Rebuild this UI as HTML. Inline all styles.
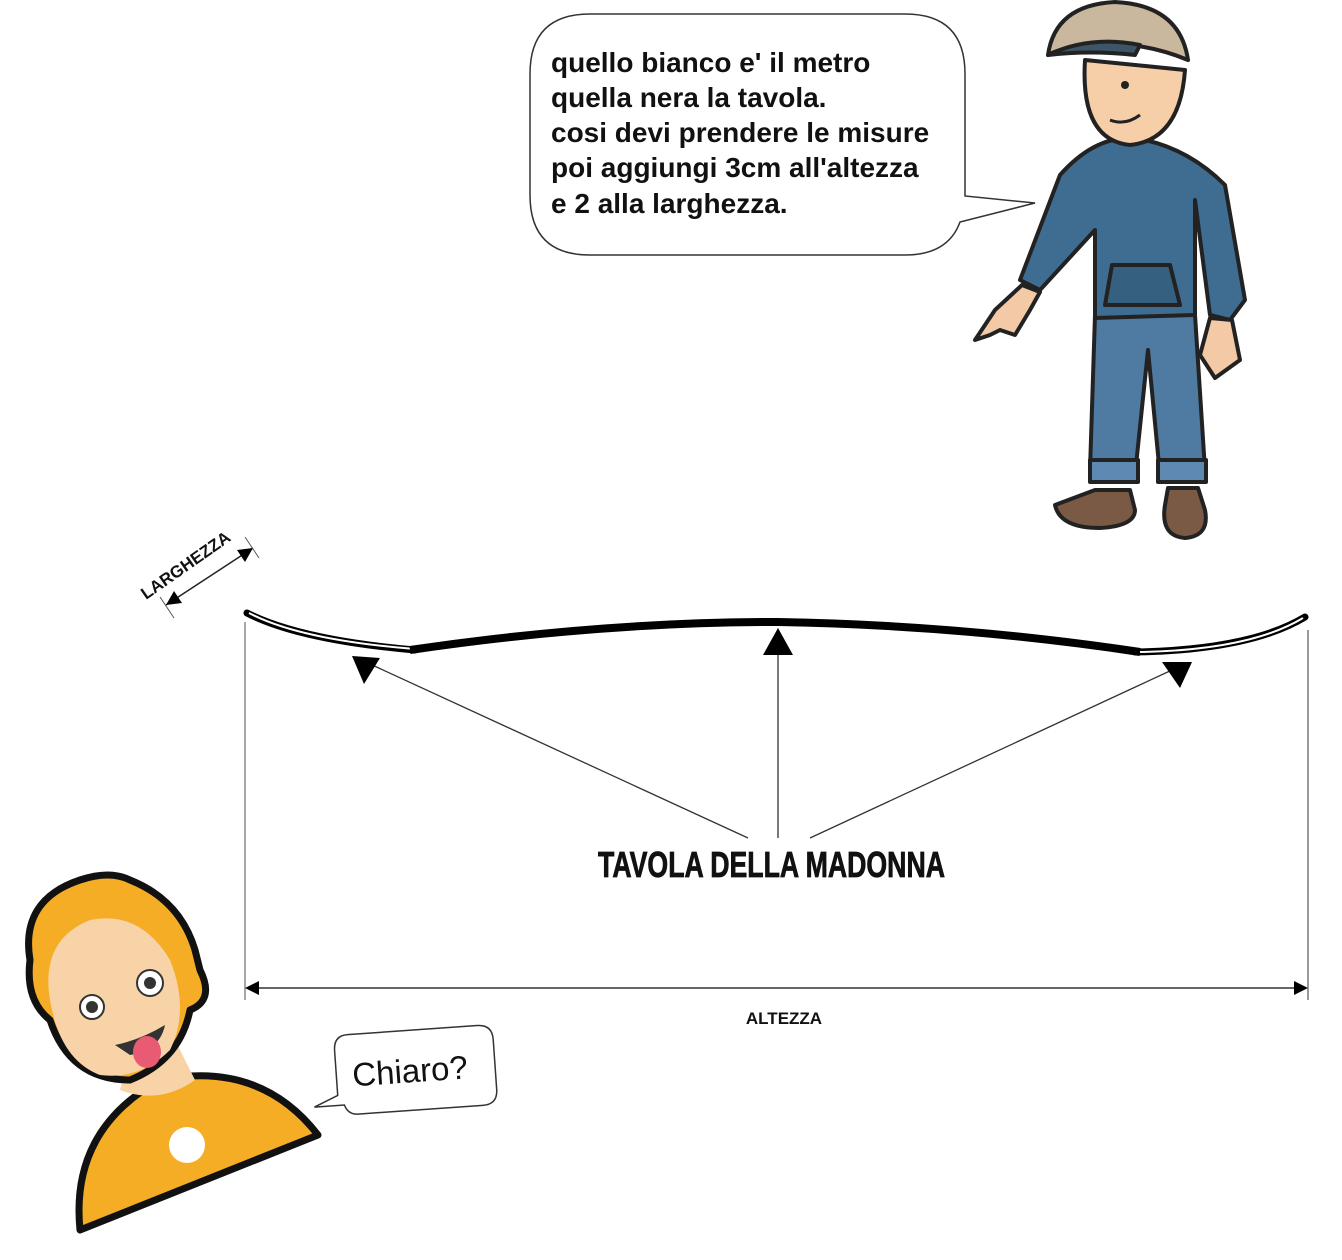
<!DOCTYPE html>
<html><head><meta charset="utf-8"><style>
html,body{margin:0;padding:0;background:#fff;width:1342px;height:1260px;overflow:hidden}
svg{display:block}
</style></head><body>
<svg width="1342" height="1260" viewBox="0 0 1342 1260" xmlns="http://www.w3.org/2000/svg">
<!-- speech bubble -->
<path d="M590,14 H905 Q965,14 965,74 V196 L1035,203 L960,222 Q948,255 905,255 H590 Q530,255 530,195 V74 Q530,14 590,14 Z" fill="#fff" stroke="#333" stroke-width="1.5"/>
<g font-family="Liberation Sans, sans-serif" font-weight="bold" font-size="28" fill="#111">
<text x="551" y="72">quello bianco e' il metro</text>
<text x="551" y="107">quella nera la tavola.</text>
<text x="551" y="142">cosi devi prendere le misure</text>
<text x="551" y="177">poi aggiungi 3cm all'altezza</text>
<text x="551" y="213">e 2 alla larghezza.</text>
</g>
<!-- right guy -->
<g stroke="#222" stroke-width="4" stroke-linejoin="round">
<path d="M1055,505 Q1060,528 1100,528 Q1135,526 1135,510 L1130,490 L1095,490 Z" fill="#7a5a45"/>
<path d="M1165,505 Q1160,536 1185,538 Q1210,536 1205,510 L1198,488 L1168,488 Z" fill="#7a5a45"/>
<path d="M1095,315 L1090,470 L1135,475 L1148,350 L1160,475 L1205,470 L1195,315 Z" fill="#4f7ba3"/>
<path d="M1090,460 h48 v22 h-48z M1158,460 h48 v22 h-48z" fill="#5d89b3"/>
<path d="M1060,175 Q1100,130 1145,140 Q1190,150 1225,185 L1245,300 L1230,320 L1210,315 L1195,200 L1195,315 L1095,318 L1095,230 L1040,290 L1020,280 Z" fill="#3f6c91"/>
<path d="M1112,265 h58 l10,40 h-75z" fill="#35607f"/>
<path d="M1022,285 L995,310 L975,340 L990,335 L1000,330 L1015,335 L1030,310 L1040,292 Z" fill="#f3c9a6"/>
<path d="M1210,318 L1200,355 L1215,378 L1240,360 L1232,320 Z" fill="#f3c9a6"/>
<path d="M1085,60 Q1080,140 1130,145 Q1180,140 1185,70 Z" fill="#f6cfa8"/>
<path d="M1048,55 Q1055,5 1115,2 Q1180,5 1188,60 Q1140,40 1090,45 Q1060,48 1048,55 Z" fill="#c9b79e"/>
<path d="M1048,55 Q1090,35 1140,45 L1135,55 Q1090,50 1048,55 Z" fill="#3d5566"/>
</g>
<circle cx="1125" cy="85" r="4" fill="#222"/>
<path d="M1110,120 Q1125,126 1140,115" stroke="#222" stroke-width="3" fill="none"/>
<!-- board -->
<path d="M247,613 Q300,640 415,650" stroke="#000" stroke-width="7" fill="none" stroke-linecap="round"/>
<path d="M249,613 Q300,640 415,649" stroke="#fff" stroke-width="2" fill="none"/>
<path d="M410,650 Q600,622 778,622 Q960,625 1140,652" stroke="#000" stroke-width="8" fill="none"/>
<path d="M1135,652 Q1250,650 1305,617" stroke="#000" stroke-width="7" fill="none" stroke-linecap="round"/>
<path d="M1140,652 Q1250,650 1303,618" stroke="#fff" stroke-width="2" fill="none"/>
<!-- arrows -->
<line x1="748" y1="838" x2="370" y2="664" stroke="#333" stroke-width="1.3"/>
<path d="M352,656 L380,658 L364,684 Z" fill="#000"/>
<line x1="778" y1="838" x2="778" y2="650" stroke="#333" stroke-width="1.3"/>
<path d="M778,628 L793,655 L763,655 Z" fill="#000"/>
<line x1="810" y1="838" x2="1172" y2="670" stroke="#333" stroke-width="1.3"/>
<path d="M1192,662 L1180,688 L1162,662 Z" fill="#000"/>
<text x="598" y="877" font-family="Liberation Sans Narrow, Liberation Sans, sans-serif" font-weight="bold" font-size="36" textLength="347" lengthAdjust="spacingAndGlyphs" fill="#111" stroke="#111" stroke-width="0.8">TAVOLA DELLA MADONNA</text>
<!-- dimension lines -->
<line x1="245" y1="622" x2="245" y2="1000" stroke="#777" stroke-width="1.3"/>
<line x1="1308" y1="630" x2="1308" y2="1000" stroke="#999" stroke-width="2"/>
<line x1="247" y1="988" x2="1306" y2="988" stroke="#333" stroke-width="1.5"/>
<path d="M245,988 L259,981 L259,995 Z M1308,988 L1294,981 L1294,995 Z" fill="#000"/>
<text x="784" y="1024" text-anchor="middle" font-family="Liberation Sans, sans-serif" font-weight="bold" font-size="17" fill="#111">ALTEZZA</text>
<line x1="166" y1="605" x2="253" y2="548" stroke="#222" stroke-width="1.5"/>
<path d="M166,605 L174,591 L182,603 Z M253,548 L245,562 L237,550 Z" fill="#000"/>
<line x1="160" y1="597" x2="174" y2="618" stroke="#555" stroke-width="1"/>
<line x1="245" y1="537" x2="259" y2="558" stroke="#555" stroke-width="1"/>
<text transform="translate(146,600) rotate(-35)" font-family="Liberation Sans, sans-serif" font-weight="bold" font-size="17" fill="#111">LARGHEZZA</text>
<!-- left guy -->
<g stroke="#111" stroke-width="7" stroke-linejoin="round">
<path d="M80,1230 Q70,1130 160,1080 Q260,1060 318,1135 Z" fill="#f5ad25"/>
<path d="M120,1090 L130,1050 L175,1040 L195,1080 Q160,1105 120,1090Z" fill="#f8d3a8" stroke="none"/>
<path d="M30,960 Q20,900 80,880 Q110,870 130,880 Q180,900 195,950 L200,970 Q215,1000 190,1010 Q180,1060 130,1080 Q70,1080 50,1020 Q25,1000 30,960 Z" fill="#f5ad25"/>
<path d="M50,1000 Q40,940 90,920 Q140,910 170,960 Q190,1010 170,1050 Q140,1080 100,1075 Q60,1060 50,1000Z" fill="#f8d3a8" stroke="none"/>
</g>
<circle cx="92" cy="1007" r="12" fill="#fff" stroke="#333" stroke-width="2"/><circle cx="92" cy="1007" r="6" fill="#333"/>
<circle cx="150" cy="983" r="13" fill="#fff" stroke="#333" stroke-width="2"/><circle cx="150" cy="983" r="6" fill="#333"/>
<path d="M115,1045 Q140,1040 165,1025 Q160,1050 130,1055Z" fill="#333"/>
<ellipse cx="147" cy="1052" rx="14" ry="16" fill="#e95a73"/>
<circle cx="187" cy="1145" r="18" fill="#fff"/>
<!-- chiaro bubble -->
<g transform="rotate(-4 415 1068)">
<path d="M350,1030 H480 Q495,1030 495,1045 V1095 Q495,1110 480,1110 H355 Q345,1110 342,1100 L312,1100 L336,1090 V1045 Q336,1030 350,1030 Z" fill="#fff" stroke="#333" stroke-width="1.5"/>
<text x="352" y="1082" font-family="Liberation Sans, sans-serif" font-size="33" fill="#111">Chiaro?</text>
</g>
</svg>
</body></html>
